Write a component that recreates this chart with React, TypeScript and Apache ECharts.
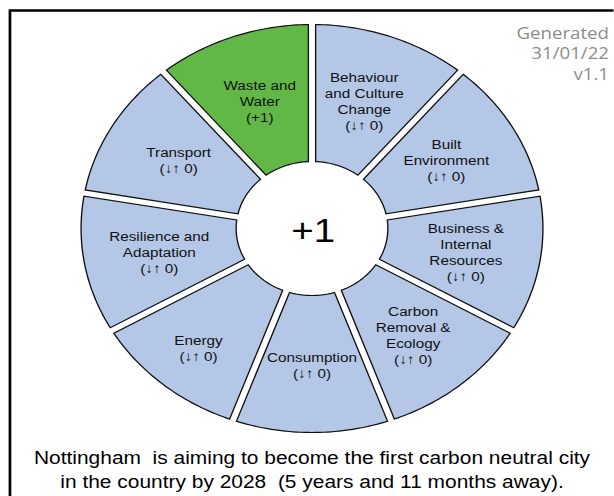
import React, { useEffect, useRef } from 'react';
import * as echarts from 'echarts';

// ---- data ----
const categories = [
  'Behaviour\nand Culture\nChange',
  'Built\nEnvironment',
  'Business &\nInternal\nResources',
  'Carbon\nRemoval &\nEcology',
  'Consumption',
  'Energy',
  'Resilience and\nAdaptation',
  'Transport',
  'Waste and\nWater',
];
const weights = [1, 1, 1, 1, 1, 1, 1, 1, 1];
const changes = [0, 0, 0, 0, 0, 0, 0, 0, 1];
const stampLines = ['Generated', '31/01/22', 'v1.1'];
const footnoteLines = [
  'Nottingham  is aiming to become the first carbon neutral city',
  'in the country by 2028  (5 years and 11 months away).',
];

// ---- layout ----
const SX = 1.132;
const W = 614;
const H = 496;
const CW = W / SX;
const CX = 312 / SX;
const CY = 228.5;
const R = 204;
const R0 = 67;
const HALF_GAP = 3.2;
const LABEL_R = [135, 137, 138, 139, 137, 156, 137, 136, 135];
const BLUE = '#B4C7E7';
const GREEN = '#62B846';
const FONT = '"Liberation Sans", Arial, sans-serif';

function changeText(c: number) {
  if (c === 0) return '(\u2193\u2191 0)';
  return '(' + (c > 0 ? '+' : '') + c + ')';
}

export default function App() {
  const ref = useRef<HTMLDivElement>(null);
  useEffect(() => {
    if (!ref.current) return;
    const chart = echarts.init(ref.current, null, { renderer: 'svg' });
    const total = weights.reduce((a, b) => a + b, 0);
    const netChange = changes.reduce((a, b) => a + b, 0);
    const seriesData = weights.map((w, i) => ({ name: categories[i], value: [i, w, changes[i]] }));

    const renderItem = (params: any, api: any) => {
      const i = params.dataIndex;
      const w = api.value(1);
      const c = api.value(2);
      let before = 0;
      for (let j = 0; j < i; j++) before += weights[j];
      const a0 = ((90 - (before / total) * 360) * Math.PI) / 180;
      const a1 = ((90 - ((before + w) / total) * 360) * Math.PI) / 180;
      const dR = Math.asin(HALF_GAP / R);
      const dr = Math.asin(HALF_GAP / R0);
      const pts: number[][] = [];
      const N = 40;
      for (let k = 0; k <= N; k++) {
        const t = a0 - dR + ((a1 + dR - (a0 - dR)) * k) / N;
        pts.push([CX + R * Math.cos(t), CY - R * Math.sin(t)]);
      }
      for (let k = 0; k <= N; k++) {
        const t = a1 + dr + ((a0 - dr - (a1 + dr)) * k) / N;
        pts.push([CX + R0 * Math.cos(t), CY - R0 * Math.sin(t)]);
      }
      const mid = (a0 + a1) / 2;
      const lr = LABEL_R[i];
      return {
        type: 'group',
        children: [
          {
            type: 'polygon',
            shape: { points: pts },
            style: { fill: c > 0 ? GREEN : BLUE, stroke: '#111', lineWidth: 1.2 },
          },
          {
            type: 'text',
            x: CX + lr * Math.cos(mid),
            y: CY - lr * Math.sin(mid),
            style: {
              text: categories[i] + '\n' + changeText(c),
              align: 'center',
              verticalAlign: 'middle',
              textAlign: 'center',
              textVerticalAlign: 'middle',
              fontSize: 13.5,
              fontFamily: FONT,
              lineHeight: 16,
              fill: '#111',
            },
          },
        ],
      };
    };

    chart.setOption({
      animation: false,
      backgroundColor: '#fff',
      series: [
        {
          type: 'custom',
          coordinateSystem: 'none',
          renderItem,
          data: seriesData,
          silent: true,
        },
      ],
      graphic: [
        {
          type: 'rect',
          shape: { x: 8.8, y: 10.5, width: 1200, height: 1200 },
          style: { fill: 'none', stroke: '#000', lineWidth: 2.4 },
        },
        {
          type: 'text',
          x: CX + 1,
          y: CY + 2,
          style: {
            text: (netChange > 0 ? '+' : '') + netChange,
            align: 'center',
            verticalAlign: 'middle',
            textAlign: 'center',
            textVerticalAlign: 'middle',
            fontSize: 34,
            fontFamily: FONT,
            fill: '#000',
          },
        },
        {
          type: 'text',
          x: 538,
          y: 22,
          style: {
            text: stampLines.join('\n'),
            align: 'right',
            textAlign: 'right',
            verticalAlign: 'top',
            textVerticalAlign: 'top',
            fontSize: 16.5,
            lineHeight: 20.5,
            fontFamily: '"Open Sans", sans-serif',
            fill: '#8c8c8c',
          },
        },
        {
          type: 'text',
          x: CX,
          y: 469,
          style: {
            text: footnoteLines.join('\n'),
            align: 'center',
            textAlign: 'center',
            verticalAlign: 'middle',
            textVerticalAlign: 'middle',
            fontSize: 18.5,
            lineHeight: 24,
            fontFamily: FONT,
            fill: '#000',
          },
        },
      ],
    });
    return () => chart.dispose();
  }, []);

  return (
    <div
      style={{
        position: 'absolute',
        left: 0,
        top: 0,
        width: W,
        height: H,
        overflow: 'hidden',
        background: '#fff',
      }}
    >
      <div
        ref={ref}
        style={{
          width: CW,
          height: H,
          transform: `scaleX(${SX})`,
          transformOrigin: '0 0',
        }}
      />
    </div>
  );
}
